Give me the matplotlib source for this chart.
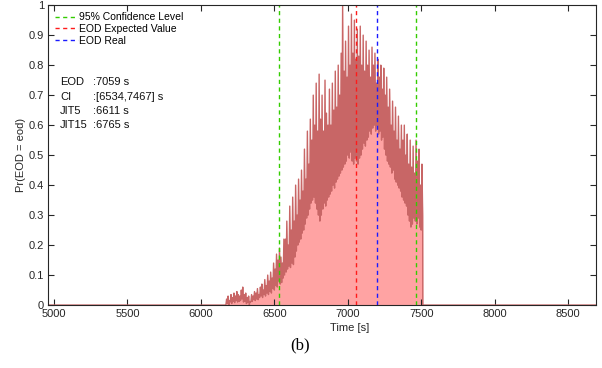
import numpy as np
import matplotlib
matplotlib.use("Agg")
import matplotlib.pyplot as plt

plt.rcParams['font.family'] = ['Liberation Sans', 'DejaVu Sans']

# probability series: one trough and one peak per 10 s bin, bins start at 6170 s
bin_start = 6170
bin_width = 10
peaks = [
    0.02, 0.03, 0.015, 0.035, 0.025, 0.04, 0.03, 0.045, 0.035, 0.03,
    0.05, 0.06, 0.035, 0.04, 0.025, 0.03, 0.01, 0.035, 0.03, 0.045,
    0.04, 0.055, 0.035, 0.06, 0.07, 0.05, 0.085, 0.065, 0.1, 0.08,
    0.11, 0.09, 0.14, 0.12, 0.17, 0.15, 0.19, 0.16, 0.14, 0.22,
    0.22, 0.28, 0.2, 0.33, 0.25, 0.36, 0.28, 0.4, 0.3, 0.42,
    0.35, 0.45, 0.38, 0.52, 0.42, 0.58, 0.47, 0.62, 0.55, 0.7,
    0.6, 0.74, 0.58, 0.77, 0.62, 0.7, 0.58, 0.75, 0.64, 0.6,
    0.72, 0.6, 0.74, 0.65, 0.78, 0.66, 0.8, 0.7, 0.84, 1.0,
    0.78, 0.88, 0.76, 0.93, 0.8, 0.97, 0.84, 0.95, 0.82, 0.92,
    0.83, 0.93, 0.8, 0.9, 0.78, 0.88, 0.8, 0.85, 0.76, 0.86,
    0.8, 0.84, 0.74, 0.82, 0.76, 0.8, 0.72, 0.79, 0.7, 0.76,
    0.66, 0.72, 0.6, 0.68, 0.58, 0.66, 0.55, 0.63, 0.52, 0.6,
    0.55, 0.6, 0.5, 0.57, 0.47, 0.55, 0.46, 0.53, 0.44, 0.55,
    0.48, 0.52, 0.4, 0.47,
]
troughs = [
    0.0, 0.005, 0.0, 0.01, 0.005, 0.012, 0.008, 0.015, 0.01, 0.012,
    0.015, 0.02, 0.01, 0.012, 0.005, 0.008, 0.0, 0.01, 0.012, 0.018,
    0.015, 0.02, 0.018, 0.025, 0.03, 0.025, 0.035, 0.03, 0.04, 0.035,
    0.045, 0.04, 0.055, 0.05, 0.065, 0.06, 0.08, 0.07, 0.075, 0.09,
    0.1, 0.11, 0.12, 0.13, 0.125, 0.14, 0.135, 0.16, 0.18, 0.2,
    0.21, 0.22, 0.24, 0.25, 0.27, 0.29, 0.3, 0.32, 0.34, 0.35,
    0.36, 0.34, 0.32, 0.3, 0.28, 0.3, 0.32, 0.34, 0.33, 0.35,
    0.36, 0.37, 0.38, 0.4, 0.39, 0.41, 0.42, 0.43, 0.44, 0.45,
    0.46, 0.47, 0.48, 0.5, 0.49, 0.51, 0.48, 0.47, 0.49, 0.48,
    0.47, 0.49, 0.5, 0.52, 0.54, 0.53, 0.55, 0.56, 0.58, 0.57,
    0.59, 0.6, 0.58, 0.6, 0.57, 0.58, 0.55, 0.56, 0.52, 0.5,
    0.48, 0.47, 0.46, 0.44, 0.45, 0.42, 0.41, 0.4, 0.39, 0.38,
    0.36, 0.35, 0.34, 0.33, 0.3, 0.28, 0.26, 0.27, 0.29, 0.28,
    0.27, 0.29, 0.26, 0.25,
]

ci_bounds = [6534, 7467]
eod_expected = 7059
eod_real = 7196
info_labels = ["EOD", "CI", "JIT5", "JIT15"]
info_values = [":7059 s", ":[6534,7467] s", ":6611 s", ":6765 s"]
xticks = [5000, 5500, 6000, 6500, 7000, 7500, 8000, 8500]
yticks = [0, 0.1, 0.2, 0.3, 0.4, 0.5, 0.6, 0.7, 0.8, 0.9, 1]
ytick_labels = ["0", "0.1", "0.2", "0.3", "0.4", "0.5", "0.6", "0.7", "0.8", "0.9", "1"]

# build the full curve: zeros before, trough/peak pairs, drop back to zero
n = len(peaks)
t_lo = bin_start + bin_width * np.arange(n)
t_hi = t_lo + bin_width / 2
t = np.empty(2 * n)
p = np.empty(2 * n)
t[0::2], t[1::2] = t_lo, t_hi
p[0::2], p[1::2] = troughs, peaks
end_t = bin_start + bin_width * n
t = np.concatenate([[4960, bin_start - 1], t, [end_t, end_t + 1, 8690]])
p = np.concatenate([[0, 0], p, [0.3, 0, 0]])

fig = plt.figure(figsize=(6.02, 3.68), dpi=100)
ax = fig.add_axes([0.08, 0.171, 0.91, 0.815])

ax.fill_between(t, 0, p, color='#ffa3a3', lw=0)
ax.plot(t, p, color='#c86666', lw=1.0)

ax.axvline(ci_bounds[0], color='#33cc00', ls=(0, (3, 2.5)), lw=1, label='95% Confidence Level')
ax.axvline(ci_bounds[1], color='#33cc00', ls=(0, (3, 2.5)), lw=1)
ax.axvline(eod_expected, color='#ff1a1a', ls=(0, (3, 2.5)), lw=1, label='EOD Expected Value')
ax.axvline(eod_real, color='#1a1aff', ls=(0, (3, 2.5)), lw=1, label='EOD Real')

ax.set_xlim(4960, 8690)
ax.set_ylim(0, 1)
ax.set_xticks(xticks)
ax.set_yticks(yticks)
ax.set_yticklabels(ytick_labels)
ax.tick_params(direction='in', top=True, right=True, length=4, width=0.8,
               labelsize=8, colors='#262626', pad=3)
for s in ax.spines.values():
    s.set_color('#262626')
    s.set_linewidth(0.8)

ax.set_xlabel('Time [s]', fontsize=8, color='#262626')
ax.xaxis.set_label_coords(0.551, -0.06)
ax.set_ylabel('Pr(EOD = eod)', fontsize=8, color='#262626', labelpad=2)

leg = ax.legend(loc='upper left', bbox_to_anchor=(0.0, 1.0), frameon=False,
                fontsize=7.5, handlelength=2.2, handletextpad=0.1,
                labelspacing=0.15, borderaxespad=0.3)

for i, (lab, val) in enumerate(zip(info_labels, info_values)):
    y = 0.743 - i * 0.048
    ax.text(0.022, y, lab, transform=ax.transAxes, fontsize=8, va='center', color='#111111')
    ax.text(0.082, y, val, transform=ax.transAxes, fontsize=8, va='center', color='#111111')

fig.text(0.498, 0.062, '(b)', fontsize=12, family='Liberation Serif', ha='center', va='center')

fig.savefig('out.png', dpi=100)
